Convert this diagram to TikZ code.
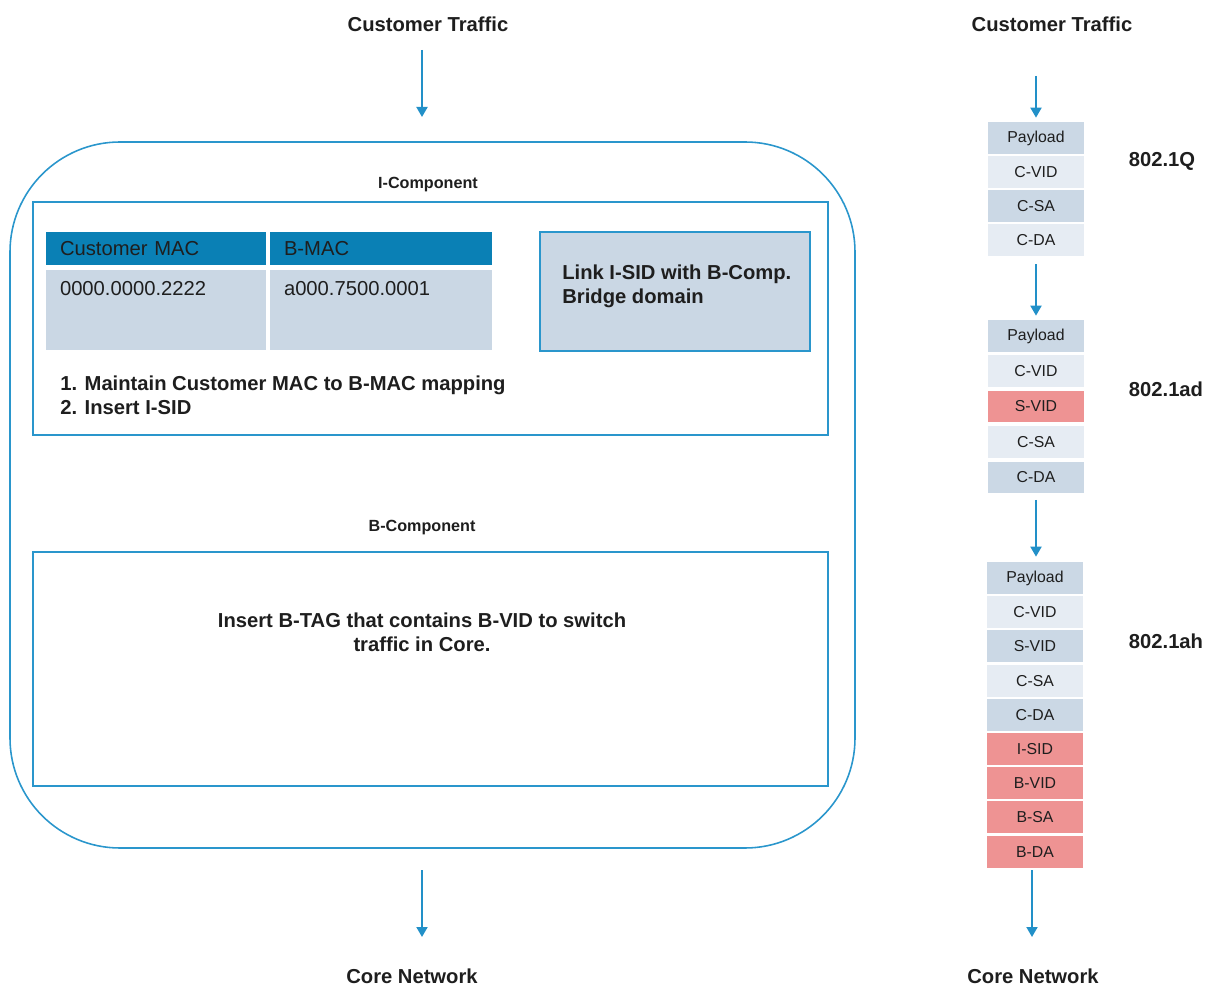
\documentclass[tikz,border=0pt]{standalone}
\usepackage{fontspec}
\setmainfont{Liberation Sans}
\usetikzlibrary{arrows.meta,calc}
\definecolor{lineblue}{HTML}{2A96CC}
\definecolor{arrowblue}{HTML}{2290C8}
\definecolor{hdrblue}{HTML}{0A80B5}
\definecolor{cellgray}{HTML}{CAD7E4}
\definecolor{rowdark}{HTML}{CBD8E5}
\definecolor{rowlight}{HTML}{E6ECF3}
\definecolor{rowred}{HTML}{EE9393}
\definecolor{txt}{HTML}{1E1E1E}
\begin{document}
\begin{tikzpicture}[x=0.02cm,y=-0.02cm,text=txt,
  bigtxt/.style={font=\fontsize{11.5}{13.5}\selectfont\bfseries},
  smalltxt/.style={font=\fontsize{9.2}{11}\selectfont\bfseries},
  celltxt/.style={font=\fontsize{11.5}{13.5}\selectfont, inner sep=0pt},
  flow/.style={draw=arrowblue, line width=1.1pt, -{Triangle[length=2mm,width=2.2mm]}},
  frame/.style={draw=lineblue, line width=0.9pt, rectangle, inner sep=0pt},
  row/.style={rectangle, inner sep=0pt, minimum width=1.92cm, minimum height=0.64cm,
              font=\fontsize{9}{10}\selectfont},
  rdark/.style={row, fill=rowdark},
  rlight/.style={row, fill=rowlight},
  rred/.style={row, fill=rowred},
  hdr/.style={rectangle, fill=hdrblue, minimum height=0.66cm, inner xsep=0.28cm,
              text width=3.84cm, align=left, font=\fontsize{11.5}{13.5}\selectfont},
  bodycell/.style={rectangle, fill=cellgray, minimum width=4.4cm, minimum height=1.6cm, inner sep=0pt}
]
\path[use as bounding box] (0,0) rectangle (1218,986);

% ---------- left side ----------
\node[bigtxt] (ctl) at (428,24) {Customer Traffic};
\coordinate (ctlA) at (422,50);
\coordinate (ctlB) at (422,117);
\draw[flow] (ctlA) -- (ctlB);

\draw[draw=lineblue, line width=0.9pt, rounded corners=2.2cm] (10,142) rectangle (855,848);

\node[smalltxt] (icl) at (428,185) {I-Component};
\node[frame, minimum width=15.9cm, minimum height=4.66cm] (ibox) at (430.5,318.5) {};

\node[hdr] (h1) at (156,248.5) {Customer MAC};
\node[hdr, text width=3.88cm] (h2) at (381,248.5) {B-MAC};
\node[bodycell] (b1) at (156,310) {};
\node[bodycell, minimum width=4.44cm] (b2) at (381,310) {};
\node[celltxt, anchor=west] (b1t) at ($(b1.north west)+(14,19)$) {0000.0000.2222};
\node[celltxt, anchor=west] (b2t) at ($(b2.north west)+(14,19)$) {a000.7500.0001};

\node[frame, fill=cellgray, minimum width=5.4cm, minimum height=2.38cm] (link) at (675,291.5) {};
\node[bigtxt, anchor=north west, align=left, inner sep=0pt] (linkt) at (562,265)
  {Link I-SID with B-Comp.\\Bridge domain};

\node[bigtxt, anchor=west, align=left, inner sep=0pt] (steps) at (60,395.5)
  {1. Maintain Customer MAC to B-MAC mapping\\2. Insert I-SID};

\node[smalltxt] (bcl) at (422,528) {B-Component};
\node[frame, minimum width=15.9cm, minimum height=4.68cm] (bbox) at (430.5,669) {};
\node[bigtxt, align=center, inner sep=0pt] (btxt) at (422,632)
  {Insert B-TAG that contains B-VID to switch\\traffic in Core.};

\coordinate (cnlA) at (422,870);
\coordinate (cnlB) at (422,937);
\draw[flow] (cnlA) -- (cnlB);
\node[bigtxt] (cnl) at (412,976) {Core Network};

% ---------- right side ----------
\node[bigtxt] (ctr) at (1052,24) {Customer Traffic};
\coordinate (ctrA) at (1036,76);

\node[rdark]  (q1) at (1036,138) {Payload};
\node[rlight] (q2) at (1036,172) {C-VID};
\node[rdark]  (q3) at (1036,206) {C-SA};
\node[rlight] (q4) at (1036,240) {C-DA};
\node[bigtxt] (lq) at (1162,161) {802.1Q};

\node[rdark]  (d1) at (1036,336) {Payload};
\node[rlight] (d2) at (1036,371) {C-VID};
\node[rred]   (d3) at (1036,406.5) {S-VID};
\node[rlight] (d4) at (1036,442) {C-SA};
\node[rdark]  (d5) at (1036,477.5) {C-DA};
\node[bigtxt] (ld) at (1166,389) {802.1ad};

\node[rdark]  (a1) at (1035,578) {Payload};
\node[rlight] (a2) at (1035,612.2) {C-VID};
\node[rdark]  (a3) at (1035,646.4) {S-VID};
\node[rlight] (a4) at (1035,680.6) {C-SA};
\node[rdark]  (a5) at (1035,714.8) {C-DA};
\node[rred]   (a6) at (1035,749) {I-SID};
\node[rred]   (a7) at (1035,783.2) {B-VID};
\node[rred]   (a8) at (1035,817.4) {B-SA};
\node[rred]   (a9) at (1035,851.6) {B-DA};
\node[bigtxt] (la) at (1166,641) {802.1ah};

\draw[flow, shorten >=0.08cm] (ctrA) -- (ctrA |- q1.north);
\draw[flow, shorten <=0.16cm, shorten >=0.08cm] (q4.south) -- (d1.north);
\draw[flow, shorten <=0.12cm, shorten >=0.1cm] (d5.south) -- (d5.south |- a1.north);

\coordinate (cnrA) at (1032,870);
\coordinate (cnrB) at (1032,937);
\draw[flow] (cnrA) -- (cnrB);
\node[bigtxt] (cnr) at (1033,976) {Core Network};
\end{tikzpicture}
\end{document}
